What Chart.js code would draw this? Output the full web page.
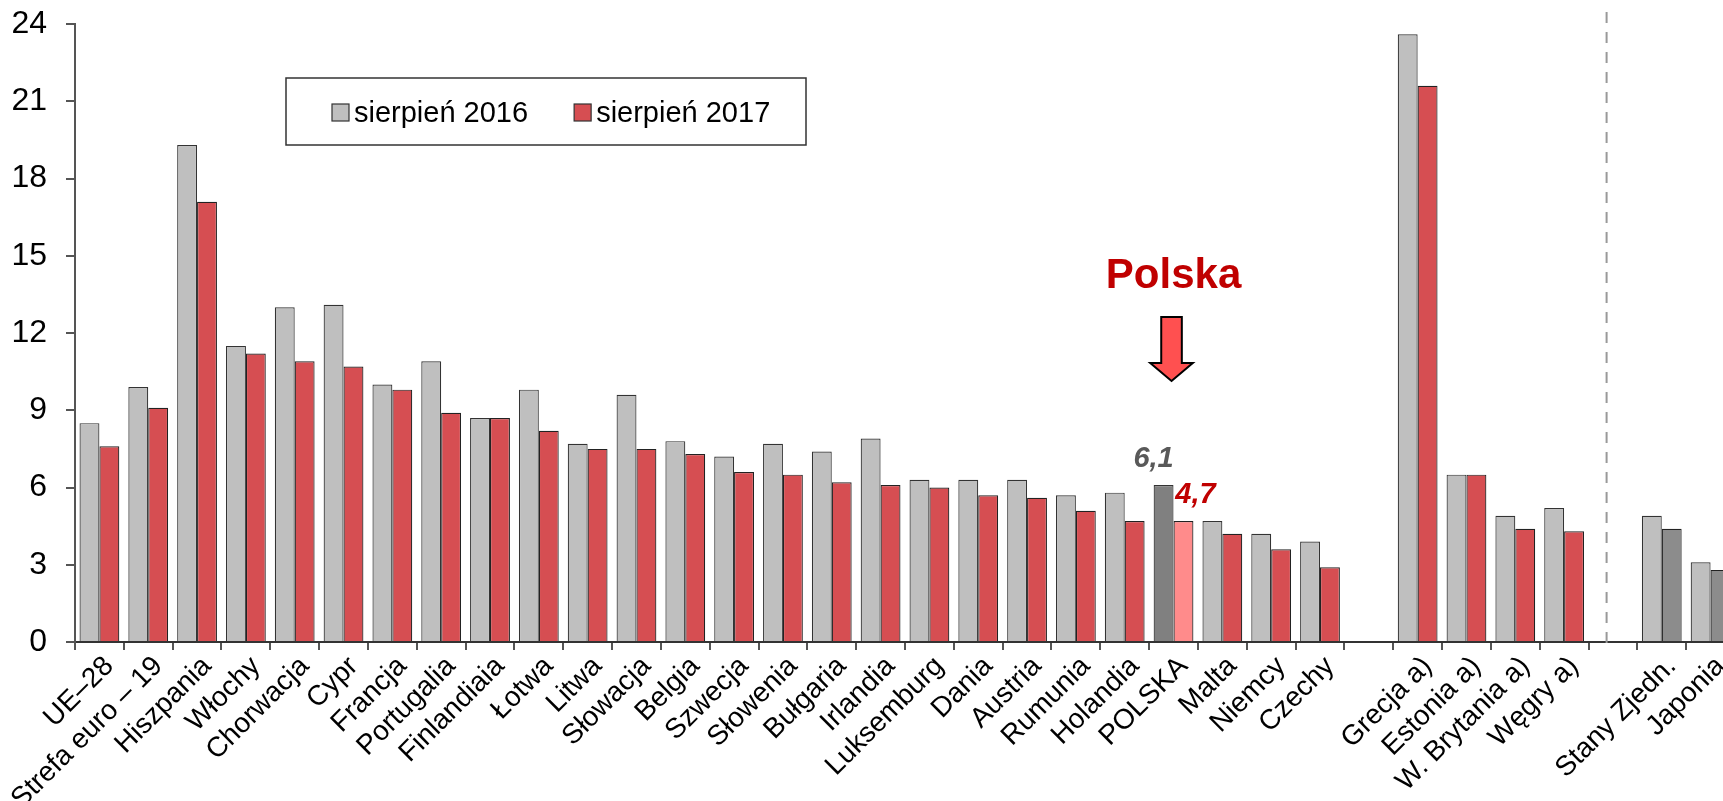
<!DOCTYPE html>
<html>
<head>
<meta charset="utf-8">
<script src="https://cdn.jsdelivr.net/npm/chart.js@4.4.0/dist/chart.umd.min.js"></script>
<style>
html, body { margin: 0; padding: 0; background: #fff; overflow: hidden; }
#wrap { width: 1735px; height: 801px; }
</style>
</head>
<body>
<div id="wrap"><canvas id="unemployment_chart" width="1735" height="801"></canvas></div>
<script>
// countries (empty strings are the gaps between groups)
var countries = ['UE\u201328', 'Strefa euro \u2013 19', 'Hiszpania', 'W\u0142ochy', 'Chorwacja', 'Cypr', 'Francja',
    'Portugalia', 'Finlandiaia', '\u0141otwa', 'Litwa', 'S\u0142owacja', 'Belgia', 'Szwecja', 'S\u0142owenia',
    'Bu\u0142garia', 'Irlandia', 'Luksemburg', 'Dania', 'Austria', 'Rumunia', 'Holandia', 'POLSKA', 'Malta',
    'Niemcy', 'Czechy', '', 'Grecja a)', 'Estonia a)', 'W. Brytania a)', 'W\u0119gry a)', '', 'Stany Zjedn.', 'Japonia'];

var aug2016 = [8.5, 9.9, 19.3, 11.5, 13.0, 13.1, 10.0, 10.9, 8.7, 9.8, 7.7, 9.6, 7.8, 7.2, 7.7, 7.4, 7.9, 6.3, 6.3,
    6.3, 5.7, 5.8, 6.1, 4.7, 4.2, 3.9, null, 23.6, 6.5, 4.9, 5.2, null, 4.9, 3.1];
var aug2017 = [7.6, 9.1, 17.1, 11.2, 10.9, 10.7, 9.8, 8.9, 8.7, 8.2, 7.5, 7.5, 7.3, 6.6, 6.5, 6.2, 6.1, 6.0, 5.7,
    5.6, 5.1, 4.7, 4.7, 4.2, 3.6, 2.9, null, 21.6, 6.5, 4.4, 4.3, null, 4.4, 2.8];

var seriesLabels = ['sierpie\u0144 2016', 'sierpie\u0144 2017'];
var yTicks = [0, 3, 6, 9, 12, 15, 18, 21, 24];

var highlighted = 'POLSKA';
var highlightTitle = 'Polska';
var nonEu = ['Stany Zjedn.', 'Japonia'];

var FONT = '"Liberation Sans", Arial, sans-serif';
Chart.defaults.font.family = FONT;
Chart.defaults.color = '#000';

// legend box drawn inside the plot area
var legendBox = {
    id: 'legendBox',
    afterDraw: function (chart) {
        var ctx = chart.ctx;
        ctx.save();
        ctx.lineWidth = 1.5;
        ctx.strokeStyle = '#333';
        ctx.strokeRect(286, 78, 520, 67);
        ctx.font = '29px ' + FONT;
        ctx.textBaseline = 'alphabetic';
        ctx.textAlign = 'left';
        var x = 332;
        chart.data.datasets.forEach(function (ds) {
            ctx.fillStyle = ds.legendColor;
            ctx.fillRect(x, 104, 17, 17);
            ctx.lineWidth = 1.2;
            ctx.strokeStyle = '#333';
            ctx.strokeRect(x, 104, 17, 17);
            ctx.fillStyle = '#000';
            ctx.fillText(ds.label, x + 22, 122);
            x = x + 22 + ctx.measureText(ds.label).width + 46;
        });
        ctx.restore();
    }
};

// separator line, Polska arrow and value labels
var annotations = {
    id: 'annotations',
    afterDatasetsDraw: function (chart) {
        var ctx = chart.ctx;
        var xs = chart.scales.x;
        var ys = chart.scales.y;
        ctx.save();

        // dashed separator before the non-EU countries
        var p30 = xs.getPixelForValue(30), p31 = xs.getPixelForValue(31);
        var sx = p30 + 0.87 * (p31 - p30);
        ctx.strokeStyle = '#999';
        ctx.lineWidth = 2;
        ctx.setLineDash([11, 9]);
        ctx.beginPath();
        ctx.moveTo(sx, 12);
        ctx.lineTo(sx, ys.getPixelForValue(0) + 9);
        ctx.stroke();
        ctx.setLineDash([]);

        var i = countries.indexOf(highlighted);
        var cx = xs.getPixelForValue(i);

        ctx.fillStyle = '#C00000';
        ctx.font = 'bold 42px ' + FONT;
        ctx.textAlign = 'center';
        ctx.textBaseline = 'alphabetic';
        ctx.fillText(highlightTitle, cx, 288);

        // arrow
        var ax = cx - 2;
        ctx.beginPath();
        ctx.moveTo(ax - 10.3, 317);
        ctx.lineTo(ax + 10.3, 317);
        ctx.lineTo(ax + 10.3, 363);
        ctx.lineTo(ax + 21.3, 363);
        ctx.lineTo(ax, 381);
        ctx.lineTo(ax - 21.3, 363);
        ctx.lineTo(ax - 10.3, 363);
        ctx.closePath();
        ctx.fillStyle = '#FF5050';
        ctx.fill();
        ctx.lineWidth = 2;
        ctx.strokeStyle = '#000';
        ctx.stroke();

        // value labels above the Polish bars
        ctx.font = 'italic bold 29px ' + FONT;
        var b0 = chart.getDatasetMeta(0).data[i];
        var b1 = chart.getDatasetMeta(1).data[i];
        ctx.fillStyle = '#595959';
        ctx.fillText(String(aug2016[i]).replace('.', ','), b0.x - 10, b0.y - 18);
        ctx.fillStyle = '#C00000';
        ctx.fillText(String(aug2017[i]).replace('.', ','), b1.x + 12, b1.y - 18);

        ctx.restore();
    }
};

var ctx = document.getElementById('unemployment_chart').getContext('2d');
var chart = new Chart(ctx, {
    type: 'bar',
    data: {
        labels: countries,
        datasets: [{
            label: seriesLabels[0],
            data: aug2016,
            legendColor: '#BFBFBF',
            backgroundColor: function (c) {
                return countries[c.dataIndex] === highlighted ? '#808080' : '#BFBFBF';
            },
            borderColor: '#333',
            borderWidth: 1.2
        }, {
            label: seriesLabels[1],
            data: aug2017,
            legendColor: '#D64E52',
            backgroundColor: function (c) {
                var name = countries[c.dataIndex];
                if (name === highlighted) return '#FF8B8B';
                if (nonEu.indexOf(name) >= 0) return '#8C8C8C';
                return '#D64E52';
            },
            borderColor: '#222',
            borderWidth: 1.2
        }]
    },
    options: {
        responsive: false,
        animation: false,
        layout: { padding: { top: 24, left: 0, right: 0, bottom: 0 } },
        datasets: {
            bar: { barPercentage: 1, categoryPercentage: 0.815 }
        },
        scales: {
            x: {
                grid: { drawOnChartArea: false, tickLength: 8, tickColor: '#555', lineWidth: 2 },
                border: { color: '#333', width: 2 },
                ticks: {
                    autoSkip: false,
                    minRotation: 45,
                    maxRotation: 45,
                    padding: 0,
                    labelOffset: 10,
                    font: { size: 28 },
                    color: '#000'
                },
                afterFit: function (scale) { scale.height = 159; }
            },
            y: {
                min: 0,
                max: 24,
                grid: { drawOnChartArea: false, tickLength: 9, tickColor: '#555', lineWidth: 2 },
                border: { color: '#555', width: 2 },
                afterBuildTicks: function (scale) {
                    scale.ticks = yTicks.map(function (v) { return { value: v }; });
                },
                ticks: {
                    padding: 19,
                    font: { size: 32 },
                    color: '#000'
                },
                afterFit: function (scale) {
                    scale.width = 75;
                    scale.paddingTop = 0;
                    scale.paddingBottom = 0;
                }
            }
        },
        plugins: {
            legend: { display: false },
            tooltip: { enabled: false }
        }
    },
    plugins: [annotations, legendBox]
});
</script>
</body>
</html>
